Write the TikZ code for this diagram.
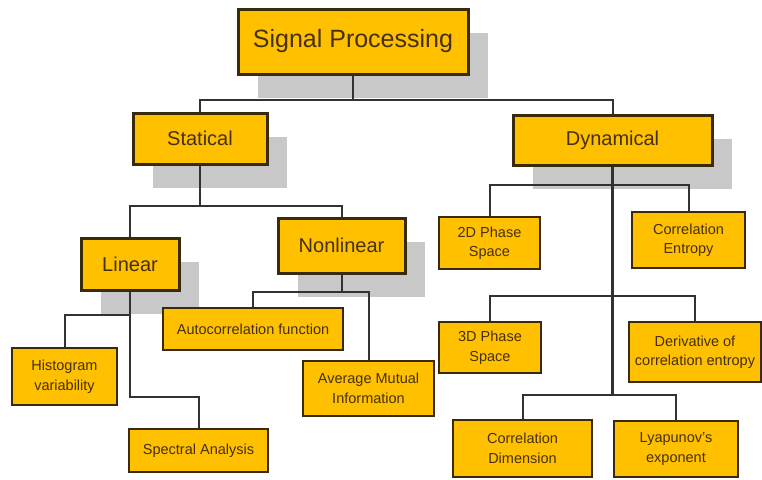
\documentclass[tikz,border=0pt]{standalone}
\usepackage{fontspec}
\setmainfont{Liberation Sans}
\usetikzlibrary{shadows}
\definecolor{boxfill}{RGB}{255,192,0}
\definecolor{boxline}{RGB}{58,42,12}
\definecolor{boxtext}{RGB}{70,48,5}
\definecolor{shade}{RGB}{200,200,200}
\definecolor{wirecol}{RGB}{50,50,50}
\begin{document}
\begin{tikzpicture}[x=1pt,y=-1pt,
  headbox/.style={draw=boxline,line width=3pt,fill=boxfill,text=boxtext,inner sep=0pt,
    font=\fontsize{20}{24}\selectfont,
    drop shadow={shadow xshift=20pt,shadow yshift=-24pt,fill=shade,opacity=1}},
  leafbox/.style={draw=boxline,line width=2pt,fill=boxfill,text=boxtext,inner sep=0pt,
    align=center,font=\fontsize{14.5}{19.5}\selectfont},
  wire/.style={draw=wirecol,line width=2pt}]
\useasboundingbox (0,0) rectangle (762,479);

\node[headbox,minimum width=230pt,minimum height=65pt,font=\fontsize{25}{30}\selectfont] (sp) at (353,41.5) {Signal Processing};
\node[headbox,minimum width=134pt,minimum height=51pt] (stat) at (200,138.5) {Statical};
\node[headbox,minimum width=199pt,minimum height=50pt] (dyn) at (612.5,140) {Dynamical};
\node[headbox,minimum width=98pt,minimum height=52pt] (lin) at (130,264) {Linear};
\node[headbox,minimum width=127pt,minimum height=55pt] (nlin) at (341.5,245.5) {Nonlinear};

\node[leafbox,minimum width=180pt,minimum height=42pt] (acf) at (253,329) {Autocorrelation function};
\node[leafbox,minimum width=131pt,minimum height=55pt] (ami) at (368.5,388.5) {Average Mutual\\Information};
\node[leafbox,minimum width=105pt,minimum height=57pt] (hist) at (64.5,376.5) {Histogram\\variability};
\node[leafbox,minimum width=139pt,minimum height=43pt] (spec) at (198.5,450.5) {Spectral Analysis};

\node[leafbox,minimum width=101pt,minimum height=52pt] (ps2) at (489.5,243) {2D Phase\\Space};
\node[leafbox,minimum width=113pt,minimum height=56pt] (cent) at (688.5,240) {Correlation\\Entropy};
\node[leafbox,minimum width=102pt,minimum height=51pt] (ps3) at (490,347.5) {3D Phase\\Space};
\node[leafbox,minimum width=132pt,minimum height=60pt] (dce) at (695,352) {Derivative of\\correlation entropy};
\node[leafbox,minimum width=139pt,minimum height=57pt] (cdim) at (522.5,448.5) {Correlation\\Dimension};
\node[leafbox,minimum width=124pt,minimum height=56pt] (lyap) at (676,449) {Lyapunov's\\exponent};

\coordinate (b0) at (353,100);
\coordinate (b1) at (200,206);
\coordinate (b2) at (130,315);
\coordinate (b3) at (130,397);
\coordinate (b4) at (341.5,292);
\coordinate (b5) at (612.5,185);
\coordinate (b6) at (612.5,296);
\coordinate (b7) at (612.5,395);

\draw[wire] (sp) -- (b0);
\draw[wire] (stat.north) |- (b0) -| (dyn.north);
\draw[wire] (stat) -- (b1);
\draw[wire] (lin.north) |- (b1) -| (nlin.north);
\draw[wire] (lin.south) -- (b3) -| (spec.north);
\draw[wire] (b2) -| (hist.north);
\draw[wire] (nlin) -- (b4);
\draw[wire] (acf.north) |- (b4) -| (ami.north);
\draw[wire,line width=2.6pt] (dyn.south) -- (b7);
\draw[wire] (ps2.north) |- (b5) -| (cent.north);
\draw[wire] (ps3.north) |- (b6) -| (dce.north);
\draw[wire] (cdim.north) |- (b7) -| (lyap.north);
\end{tikzpicture}
\end{document}
